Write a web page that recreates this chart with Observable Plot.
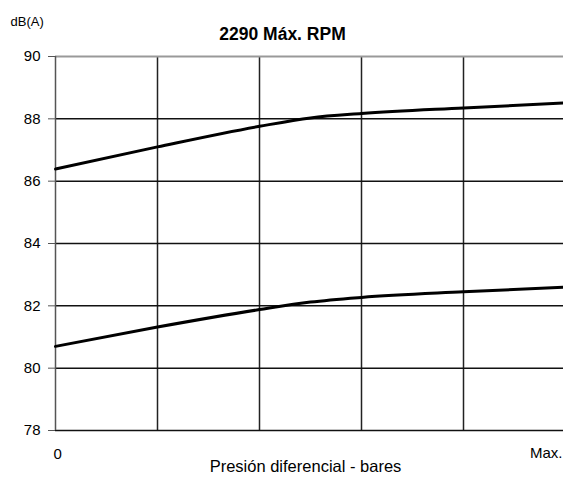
<!DOCTYPE html>
<html>
<head>
<meta charset="utf-8">
<script src="https://cdn.jsdelivr.net/npm/d3@7"></script>
<script src="https://cdn.jsdelivr.net/npm/@observablehq/plot@0.6"></script>
<style>
  html, body { margin: 0; padding: 0; background: #fff; overflow: hidden; }
  svg { display: block; }
</style>
</head>
<body>
<div id="chart"></div>
<script>
const title = "2290 Máx. RPM";
const yUnit = "dB(A)";
const xTitle = "Presión diferencial - bares";
const xTickLabels = ["0", "Max."];
const yTicks = [78, 80, 82, 84, 86, 88, 90];
const xGrid = [1, 2, 3, 4];

const xPositions = [0, 1, 2, 2.5, 3, 4, 5];
const upperSeries = [86.39, 87.10, 87.76, 88.03, 88.17, 88.35, 88.51];
const lowerSeries = [80.70, 81.32, 81.88, 82.12, 82.27, 82.45, 82.60];

const upper = xPositions.map((x, i) => ({x, y: upperSeries[i]}));
const lower = xPositions.map((x, i) => ({x, y: lowerSeries[i]}));

const chart = Plot.plot({
  width: 563,
  height: 477,
  marginTop: 56,
  marginBottom: 47,
  marginLeft: 55,
  marginRight: -2,
  style: {fontFamily: "Liberation Sans, Arial, sans-serif", fontSize: "15px", color: "#000", background: "#fff"},
  x: {domain: [0, 5], axis: null},
  y: {domain: [78, 90], axis: null},
  marks: [
    Plot.gridX(xGrid, {stroke: "#222", strokeOpacity: 1, strokeWidth: 1.5}),
    Plot.gridY(yTicks.filter(d => d < 90), {stroke: "#111", strokeOpacity: 1, strokeWidth: 1.5}),
    Plot.ruleY([90], {stroke: "#999", strokeWidth: 2}),
    Plot.ruleX([0], {stroke: "#555", strokeWidth: 1.5}),
    Plot.axisY(yTicks, {label: null, tickSize: 7, tickPadding: 8, stroke: "#555", fontSize: 15, fill: "#000"}),
    Plot.line(upper, {x: "x", y: "y", stroke: "#000", strokeWidth: 3, curve: "monotone-x"}),
    Plot.line(lower, {x: "x", y: "y", stroke: "#000", strokeWidth: 3, curve: "monotone-x"}),
    Plot.text([xTickLabels[0]], {x: 0, text: d => d, frameAnchor: "bottom", textAnchor: "start", dx: -2, dy: 28, fontSize: 15, fill: "#000"}),
    Plot.text([xTickLabels[1]], {x: 5, text: d => d, frameAnchor: "bottom", textAnchor: "end", dx: -3, dy: 27, fontSize: 15, fill: "#000"}),
    Plot.text([xTitle], {text: d => d, frameAnchor: "bottom", dx: -5, dy: 41, fontSize: 16.5, fill: "#000"}),
    Plot.text([title], {text: d => d, frameAnchor: "top", dx: -28, dy: -29, fontSize: 17.5, fontWeight: "bold", fill: "#000"}),
    Plot.text([yUnit], {text: d => d, frameAnchor: "top-left", textAnchor: "start", dx: -45, dy: -40, fontSize: 13, fill: "#000"})
  ]
});
document.getElementById("chart").appendChild(chart);
</script>
</body>
</html>
